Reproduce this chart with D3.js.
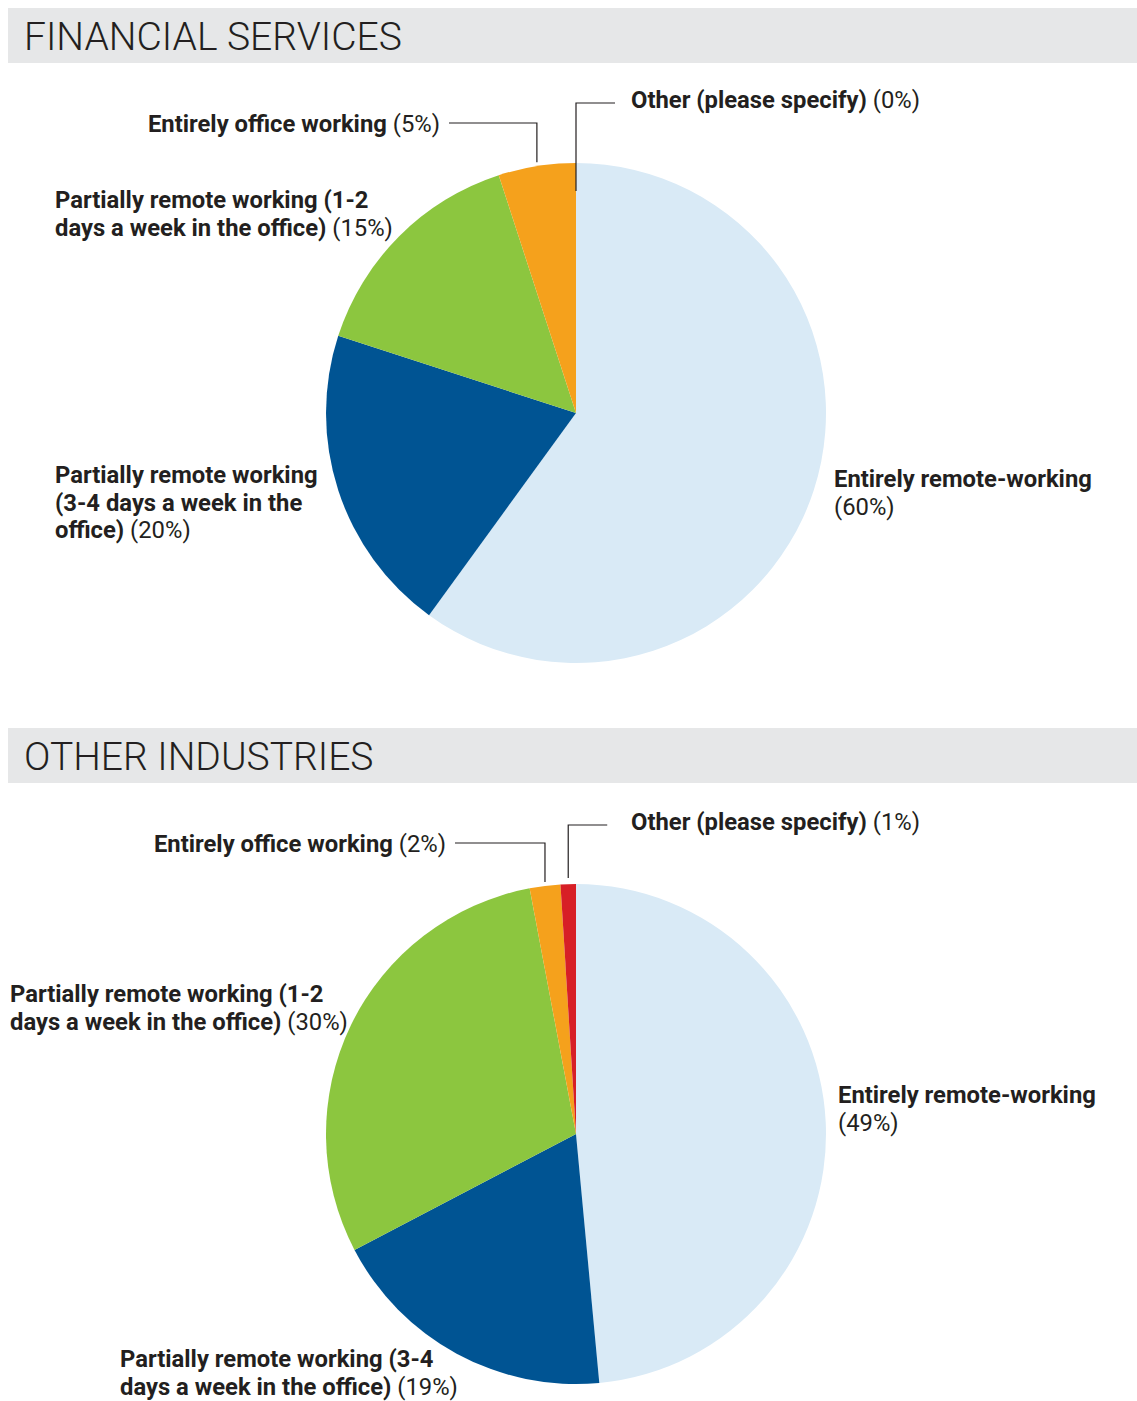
<!DOCTYPE html>
<html lang="en">
<head>
  <meta charset="utf-8">
  <title>Working arrangements</title>
  <script src="https://d3js.org/d3.v7.min.js"></script>
  <style>
  body { margin: 0; background: #fff; }
  svg { display: block; font-family: Roboto, "Open Sans", sans-serif; }
  .band { fill: #e6e7e8; }
  .title { font-size: 39px; font-weight: 300; fill: #231f20; }
  .lbl { font-size: 23.8px; fill: #231f20; }
  .lbl .b { font-weight: 700; }
  .lbl .r { font-weight: 400; }
  .leader { fill: none; stroke: #231f20; stroke-width: 1.2; }
  </style>
</head>
<body>
<script>

// categories in pie order (clockwise from 12 o'clock)
var categories = [
  "Entirely remote-working",
  "Partially remote working (3-4 days a week in the office)",
  "Partially remote working (1-2 days a week in the office)",
  "Entirely office working",
  "Other (please specify)"
];
var financialValues = [60, 20, 15, 5, 0];
var otherValues = [49, 19, 30, 2, 1];
var colors = ["#d9eaf6", "#005493", "#8cc63f", "#f5a11c", "#d71f26"];

// how each label wraps (the percentage goes after the last line)
var financialLines = [
  ["Entirely remote-working", ""],
  ["Partially remote working", "(3-4 days a week in the", "office)"],
  ["Partially remote working (1-2", "days a week in the office)"],
  ["Entirely office working"],
  ["Other (please specify)"]
];
var otherLines = [
  ["Entirely remote-working", ""],
  ["Partially remote working (3-4", "days a week in the office)"],
  ["Partially remote working (1-2", "days a week in the office)"],
  ["Entirely office working"],
  ["Other (please specify)"]
];

var width = 1137, height = 1401, radius = 250;

var svg = d3.select("body").append("svg")
    .attr("width", width)
    .attr("height", height);

var pie = d3.pie().sort(null).value(function(d) { return d; });
var arc = d3.arc().innerRadius(0).outerRadius(radius);

function drawPanel(cfg) {
  // header band
  svg.append("rect").attr("class", "band")
      .attr("x", 8).attr("y", cfg.top)
      .attr("width", width - 8).attr("height", 55);
  svg.append("text").attr("class", "title")
      .attr("x", 24).attr("y", cfg.top + 42)
      .text(cfg.title);

  var g = svg.append("g")
      .attr("transform", "translate(" + cfg.cx + "," + cfg.cy + ")");

  var arcs = pie(cfg.values);

  g.selectAll("path")
      .data(arcs)
    .enter().append("path")
      .attr("d", arc)
      .style("fill", function(d, i) { return colors[i]; });

  // labels
  arcs.forEach(function(d, i) {
    var pos = cfg.labelPos[i];
    var lines = cfg.lines[i];
    var t = svg.append("text").attr("class", "lbl")
        .attr("text-anchor", pos.anchor || "start");
    lines.forEach(function(line, j) {
      var ts = t.append("tspan")
          .attr("x", pos.x)
          .attr("y", pos.y + j * 27.5);
      if (line) ts.append("tspan").attr("class", "b").text(line);
      if (j === lines.length - 1) {
        ts.append("tspan").attr("class", "r")
            .text((line ? " " : "") + "(" + cfg.values[i] + "%)");
      }
    });
  });

  // leader lines for the two thin slices at the top
  var mid = function(d) { return (d.startAngle + d.endAngle) / 2; };

  var office = arcs[3], a = mid(office);
  var ox = cfg.cx + radius * Math.sin(a);
  var oy = cfg.cy - (radius + 4) * Math.cos(a);
  var p = cfg.labelPos[3];
  svg.append("path").attr("class", "leader")
      .attr("d", d3.line()([[p.x + 9, p.y - 9], [ox, p.y - 9], [ox, oy]]));

  var other = arcs[4], b = mid(other);
  var tx = cfg.cx + radius * Math.sin(b);
  var ty = cfg.cy - (radius + cfg.otherReach) * Math.cos(b);
  var q = cfg.labelPos[4];
  svg.append("path").attr("class", "leader")
      .attr("d", d3.line()([[tx + 39, q.y - 5], [tx, q.y - 5], [tx, ty]]));
}

drawPanel({
  title: "FINANCIAL SERVICES",
  top: 8, cx: 576, cy: 413,
  values: financialValues,
  lines: financialLines,
  otherReach: -28,
  labelPos: [
    {x: 834, y: 487},
    {x: 55, y: 483},
    {x: 55, y: 208},
    {x: 440, y: 132, anchor: "end"},
    {x: 631, y: 108}
  ]
});

drawPanel({
  title: "OTHER INDUSTRIES",
  top: 728, cx: 576, cy: 1134,
  values: otherValues,
  lines: otherLines,
  otherReach: 6,
  labelPos: [
    {x: 838, y: 1103},
    {x: 120, y: 1367},
    {x: 10, y: 1002},
    {x: 446, y: 852, anchor: "end"},
    {x: 631, y: 830}
  ]
});

</script>
</body>
</html>
